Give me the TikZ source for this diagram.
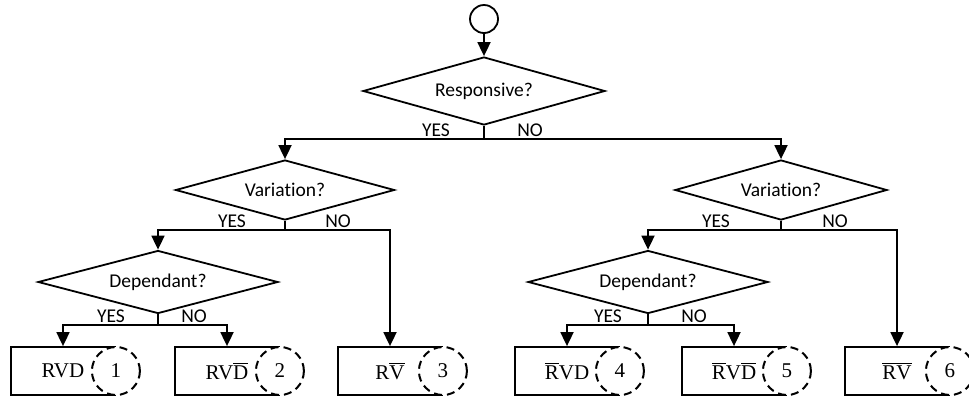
\documentclass[tikz,border=0pt]{standalone}
\usepackage{fontspec}
\usepackage{amsmath}
\setmainfont{Liberation Serif}
\newfontfamily\calibrifont[Ligatures=NoCommon]{Carlito}
\usetikzlibrary{shapes,shapes.geometric,arrows.meta,calc,positioning}
\newcommand{\ob}[1]{$\overline{\mbox{#1}}$}
\tikzset{decision/.style={draw, diamond, aspect=3.5, inner sep=0pt, font=\calibrifont\fontsize{19.5}{22}\selectfont}}
\tikzstyle{leaf}=[draw, rectangle, minimum width=104pt, minimum height=48pt, inner sep=0pt, font=\fontsize{21}{24}\selectfont]
\tikzstyle{tag}=[circle, draw, line width=2pt, dash pattern=on 8pt off 5pt, fill=white, minimum size=48pt, inner sep=0pt, font=\fontsize{21}{24}\selectfont]
\tikzstyle{ans}=[anchor=base, inner sep=0pt, font=\calibrifont\fontsize{19.5}{22}\selectfont]

\begin{document}
\begin{tikzpicture}[x=1pt, y=-1pt, >={Triangle[length=14pt,width=13pt]}, line width=1.8pt]
\useasboundingbox (0,0) rectangle (969,400);
\node[circle, draw, minimum size=28pt, inner sep=0pt] (start) at (484,19) {};
\node[decision, minimum width=242pt, minimum height=68pt] (resp) at (484,91) {Responsive?};
\node[decision, minimum width=219pt, minimum height=60pt] (varL) at (285,190) {Variation?};
\node[decision, minimum width=212pt, minimum height=60pt] (varR) at (781,190) {Variation?};
\node[decision, minimum width=240pt, minimum height=63pt] (depL) at (158,282) {Dependant?};
\node[decision, minimum width=240pt, minimum height=63pt] (depR) at (648,282) {Dependant?};
\node[leaf] (L1) at (63,371) {RVD\hspace{2pt}};
\node[leaf] (L2) at (227,371) {RV\ob{D}\hspace{2pt}};
\node[leaf] (L3) at (390,371) {R\ob{V}\hspace{4pt}};
\node[leaf] (L4) at (567,371) {\ob{R}VD\hspace{2pt}};
\node[leaf] (L5) at (734,371) {\ob{R}V\ob{D}\hspace{2pt}};
\node[leaf] (L6) at (897,371) {\ob{R}\ob{V}\hspace{8pt}};
\foreach \i in {1,...,6}
  \node[tag] (T\i) at (L\i.east) {\i};
\coordinate (J1) at (484,139);
\coordinate (J2) at (285,230);
\coordinate (J3) at (781,230);
\coordinate (J4) at (158,325);
\coordinate (J5) at (648,325);
\node[ans] (y1) at (436,136) {YES};
\node[ans] (n1) at (530,136) {NO};
\node[ans] (y2) at (232,227) {YES};
\node[ans] (n2) at (338,227) {NO};
\node[ans] (y3) at (716,227) {YES};
\node[ans] (n3) at (835,227) {NO};
\node[ans] (y4) at (111,322) {YES};
\node[ans] (n4) at (194,322) {NO};
\node[ans] (y5) at (608,322) {YES};
\node[ans] (n5) at (694,322) {NO};
\draw[->] (start) -- (resp);
\draw (resp.south) -- (J1);
\draw[->] (J1) -| (varL);
\draw[->] (J1) -| (varR);
\draw (varL.south) -- (J2);
\draw[->] (J2) -| (depL);
\draw[->] (J2) -| (L3);
\draw (varR.south) -- (J3);
\draw[->] (J3) -| (depR);
\draw[->] (J3) -| (L6);
\draw (depL.south) -- (J4);
\draw[->] (J4) -| (L1);
\draw[->] (J4) -| (L2);
\draw (depR.south) -- (J5);
\draw[->] (J5) -| (L4);
\draw[->] (J5) -| (L5);
\end{tikzpicture}
\end{document}
